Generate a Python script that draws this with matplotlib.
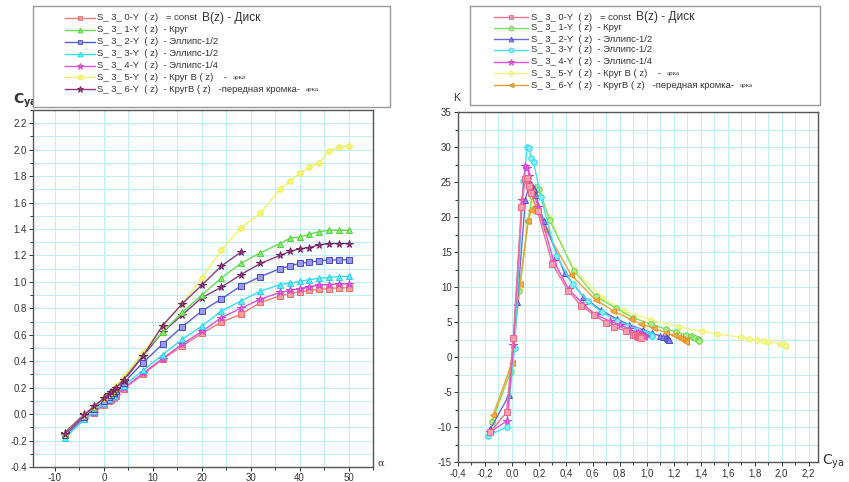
import matplotlib
matplotlib.use("Agg")
import matplotlib.pyplot as plt
from matplotlib.lines import Line2D
from matplotlib.patches import Rectangle
from matplotlib.ticker import MultipleLocator, FuncFormatter

# ---------------- data ----------------
alpha = [-8, -4, -2, 0, 1, 1.5, 2, 2.5, 4, 8, 12, 16, 20, 24, 28, 32, 36, 38, 40, 42, 44, 46, 48, 50]

cya_0 = [-0.16, -0.04, 0.01, 0.07, 0.10, 0.11, 0.125, 0.14, 0.19, 0.30, 0.415, 0.515, 0.61, 0.695, 0.755, 0.845, 0.895, 0.91, 0.925, 0.935, 0.945, 0.95, 0.955, 0.955]
cya_1 = [-0.15, -0.01, 0.055, 0.12, 0.15, 0.165, 0.18, 0.20, 0.28, 0.46, 0.62, 0.77, 0.90, 1.03, 1.14, 1.22, 1.29, 1.33, 1.34, 1.36, 1.38, 1.39, 1.39, 1.39]
cya_2 = [-0.16, -0.02, 0.04, 0.10, 0.13, 0.145, 0.16, 0.175, 0.235, 0.39, 0.53, 0.66, 0.78, 0.87, 0.97, 1.04, 1.10, 1.12, 1.14, 1.15, 1.16, 1.165, 1.167, 1.167]
cya_3 = [-0.18, -0.04, 0.02, 0.085, 0.115, 0.13, 0.14, 0.16, 0.215, 0.33, 0.45, 0.565, 0.665, 0.78, 0.855, 0.93, 0.98, 0.99, 1.004, 1.017, 1.027, 1.034, 1.04, 1.042]
cya_4 = [-0.16, -0.035, 0.01, 0.075, 0.10, 0.115, 0.13, 0.145, 0.195, 0.31, 0.42, 0.53, 0.625, 0.73, 0.80, 0.87, 0.92, 0.935, 0.95, 0.965, 0.975, 0.98, 0.985, 0.985]
cya_5 = [-0.15, -0.01, 0.06, 0.12, 0.15, 0.165, 0.19, 0.21, 0.28, 0.46, 0.67, 0.83, 1.03, 1.24, 1.41, 1.52, 1.70, 1.76, 1.82, 1.87, 1.90, 1.99, 2.02, 2.03]
cya_6 = [-0.14, 0.0, 0.06, 0.12, 0.145, 0.16, 0.17, 0.19, 0.25, 0.44, 0.62, 0.75, 0.88, 0.96, 1.055, 1.14, 1.20, 1.23, 1.25, 1.26, 1.28, 1.29, 1.29, 1.29]
alpha_x = [-8, -4, -2, 0, 1, 1.5, 2, 2.5, 4, 8, 12, 16, 20, 24, 28]
cya_x = [-0.15, -0.01, 0.06, 0.12, 0.15, 0.165, 0.18, 0.20, 0.26, 0.44, 0.67, 0.835, 0.975, 1.12, 1.225]

k_0 = [-10.7, -7.9, 2.7, 21.5, 25.5, 25.6, 24.5, 23.5, 20.8, 13.3, 9.5, 7.3, 6.0, 4.9, 4.3, 3.7, 3.2, 3.1, 3.0, 2.9, 2.9, 2.8, 2.8, 2.7]
k_1 = [-9.3, -2.1, 9.5, 19.5, 23.0, 23.8, 24.3, 24.0, 19.6, 12.3, 8.7, 7.0, 5.6, 4.7, 4.0, 3.6, 3.2, 3.0, 2.9, 2.7, 2.6, 2.5, 2.4, 2.3]
k_2 = [-10.3, -5.4, 7.9, 22.5, 24.7, 24.7, 24.0, 23.2, 19.5, 12.0, 8.6, 6.7, 5.4, 4.6, 3.9, 3.4, 3.0, 2.9, 2.8, 2.7, 2.6, 2.5, 2.45, 2.4]
k_3 = [-11.3, -10.0, 1.3, 25.2, 30.0, 29.8, 28.5, 27.9, 22.8, 14.5, 10.4, 8.0, 6.4, 5.2, 4.5, 3.9, 3.5, 3.4, 3.3, 3.25, 3.2, 3.1, 3.05, 3.0]
k_4 = [-10.7, -9.1, 1.7, 22.5, 27.3, 27.0, 25.8, 24.3, 21.5, 13.7, 9.7, 7.5, 6.0, 5.1, 4.6, 4.0, 3.5, 3.4, 3.3, 3.2, 3.1, 3.0, 3.0, 2.9]
k_5 = [-9.0, -1.5, 10.0, 19.5, 22.5, 23.0, 23.5, 23.2, 19.8, 12.5, 8.5, 6.6, 5.3, 4.3, 3.7, 3.3, 2.8, 2.6, 2.5, 2.3, 2.2, 1.9, 1.8, 1.6]
k_6 = [-8.3, -0.9, 10.5, 19.5, 21.0, 21.4, 21.3, 20.8, 18.2, 11.7, 8.2, 6.6, 5.4, 4.7, 4.1, 3.5, 3.1, 2.9, 2.7, 2.6, 2.5, 2.4, 2.3, 2.2]

labels_main = [
    "S_ 3_ 0-Y  ( z)   = const ",
    "S_ 3_ 1-Y  ( z)  - Круг",
    "S_ 3_ 2-Y  ( z)  - Эллипс-1/2",
    "S_ 3_ 3-Y  ( z)  - Эллипс-1/2",
    "S_ 3_ 4-Y  ( z)  - Эллипс-1/4",
    "S_ 3_ 5-Y  ( z)  - Круг B ( z)    - ",
    "S_ 3_ 6-Y  ( z)  - КругB ( z)   -передная кромка- ",
]
labels_big = ["B(z) - Диск", "", "", "", "", "", ""]
labels_small = ["", "", "", "", "", "арка", "арка"]

left_x_ticks = [-10, 0, 10, 20, 30, 40, 50]
left_y_ticks = [-0.4, -0.2, 0.0, 0.2, 0.4, 0.6, 0.8, 1.0, 1.2, 1.4, 1.6, 1.8, 2.0, 2.2]

# ---------------- styles ----------------
W, H = 849, 482
plt.rcParams['font.family'] = ['Liberation Sans', 'DejaVu Sans']
plt.rcParams['axes.unicode_minus'] = False
fig = plt.figure(figsize=(W / 100, H / 100), dpi=100)

GRID = '#bdeff3'

left_styles = [
    dict(color='#f07a7a', marker='s', mfc='#f4a0a0', mec='#e86a6a'),
    dict(color='#66dd55', marker='^', mfc='#88ee66', mec='#55cc44'),
    dict(color='#5a5ad0', marker='s', mfc='#9a9ae8', mec='#4848c0'),
    dict(color='#33e0f0', marker='^', mfc='#66eef8', mec='#22d0e8'),
    dict(color='#e050e0', marker='*', mfc='#f080f0', mec='#d040d0'),
    dict(color='#f2f266', marker='o', mfc='#f4f47a', mec='#eeee55'),
    dict(color='#8a3a80', marker='*', mfc='#a04a90', mec='#702060'),
]
right_styles = [
    dict(color='#f07090', marker='s', mfc='#f4a0b0', mec='#ee6688'),
    dict(color='#80e060', marker='o', mfc='#b0f090', mec='#70d050'),
    dict(color='#6a6ad8', marker='^', mfc='#8a8ae8', mec='#5050c8'),
    dict(color='#44e0f0', marker='o', mfc='#88eef8', mec='#33d8ee'),
    dict(color='#e050e0', marker='*', mfc='#f070f0', mec='#d040d0'),
    dict(color='#f4f47a', marker='o', mfc='#f6f690', mec='#f0f070'),
    dict(color='#f0a030', marker='<', mfc='#f4b050', mec='#e89020'),
]

def fx(px):
    return px / W

def fy(py):
    return 1 - py / H

# ---------------- left axes ----------------
axL = fig.add_axes([fx(33), fy(467), (373 - 33) / W, (467 - 110) / H])
cya_all = [cya_0, cya_1, cya_2, cya_3, cya_4, cya_5, cya_6]
k_all = [k_0, k_1, k_2, k_3, k_4, k_5, k_6]
orderL = [0, 4, 3, 2, 6, 1, 5]
for i in orderL:
    st = left_styles[i]
    axL.plot(alpha, cya_all[i], color=st['color'], lw=1.0, marker=st['marker'],
             ms=4 if st['marker'] != '*' else 5.5, mfc=st['mfc'], mec=st['mec'], mew=0.7, zorder=3)
stx = left_styles[6]
axL.plot(alpha_x, cya_x, color=stx['color'], lw=1.0, marker='*', ms=5.5,
         mfc=stx['mfc'], mec=stx['mec'], mew=0.7, zorder=3)

axL.set_xlim(-14.5, 55)
axL.set_ylim(-0.4, 2.3)
axL.set_xticks(left_x_ticks)
axL.set_yticks(left_y_ticks)
axL.xaxis.set_minor_locator(MultipleLocator(5))
axL.yaxis.set_minor_locator(MultipleLocator(0.1))
axL.yaxis.set_major_formatter(FuncFormatter(lambda v, p: f"{v:.1f}"))
axL.grid(True, which='both', color=GRID, lw=0.7, zorder=0)
axL.set_axisbelow(True)
axL.tick_params(which='both', labelsize=7, colors='#333333', direction='out', length=3, width=0.7, pad=1.5)
axL.tick_params(which='minor', length=2)
for s in axL.spines.values():
    s.set_color('#555555')
    s.set_linewidth(1.0)

# ---------------- right axes ----------------
axR = fig.add_axes([fx(458), fy(462), (818 - 458) / W, (462 - 112) / H])
orderR = [5, 1, 6, 2, 3, 4, 0]
for i in orderR:
    st = right_styles[i]
    axR.plot(cya_all[i], k_all[i], color=st['color'], lw=1.0, marker=st['marker'],
             ms=4 if st['marker'] != '*' else 5.5, mfc=st['mfc'], mec=st['mec'], mew=0.7, zorder=3)
axR.set_xlim(-0.4, 2.27)
axR.set_ylim(-15, 35)
axR.xaxis.set_major_locator(MultipleLocator(0.2))
axR.xaxis.set_minor_locator(MultipleLocator(0.1))
axR.yaxis.set_major_locator(MultipleLocator(5))
axR.yaxis.set_minor_locator(MultipleLocator(2.5))
axR.xaxis.set_major_formatter(FuncFormatter(lambda v, p: f"{v:.1f}".replace('.', ',').replace('-0,0', '0,0')))
axR.grid(True, which='both', color=GRID, lw=0.7, zorder=0)
axR.set_axisbelow(True)
axR.tick_params(which='both', labelsize=7, colors='#333333', direction='out', length=3, width=0.7, pad=1.5)
axR.tick_params(which='minor', length=2)
for s in axR.spines.values():
    s.set_color('#555555')
    s.set_linewidth(1.0)

# axis titles
fig.text(fx(13), fy(101), r"$\mathbf{C_{ya}}$", fontsize=10, color='#333333', va='center', ha='left')
fig.text(fx(377), fy(463), "α", fontsize=7, color='#333333', va='center', ha='left', family='DejaVu Serif')
fig.text(fx(457), fy(98), "K", fontsize=7.5, color='#333333', va='center', ha='center')
fig.text(fx(822), fy(462), r"$\mathrm{C_{ya}}$", fontsize=10, color='#333333', va='center', ha='left')

# ---------------- legends (boxes above plots) ----------------
renderer = fig.canvas.get_renderer()

def legend_block(box, handle_x0, handle_x1, text_x, rows, styles, fs):
    x0, y0, x1, y1 = box
    fig.add_artist(Rectangle((fx(x0), fy(y1)), (x1 - x0) / W, (y1 - y0) / H,
                             transform=fig.transFigure, facecolor='white',
                             edgecolor='#999999', lw=1.0, zorder=5))
    for i, ypx in enumerate(rows):
        st = styles[i]
        fig.add_artist(Line2D([fx(handle_x0), fx(handle_x1)], [fy(ypx), fy(ypx)],
                              transform=fig.transFigure, color=st['color'], lw=1.0, zorder=6))
        fig.add_artist(Line2D([fx((handle_x0 + handle_x1) / 2)], [fy(ypx)],
                              transform=fig.transFigure, marker=st['marker'],
                              ms=3.5 if st['marker'] != '*' else 5, mfc=st['mfc'], mec=st['mec'],
                              mew=0.6, lw=0, zorder=6))
        t = fig.text(fx(text_x), fy(ypx), labels_main[i], fontsize=fs, color='#333333',
                     va='center', ha='left', zorder=6)
        bb = t.get_window_extent(renderer)
        xe = bb.x1
        if labels_big[i]:
            fig.text(xe / W + 2 / W, fy(ypx), labels_big[i], fontsize=fs + 1.8, color='#333333',
                     va='center', ha='left', zorder=6)
        if labels_small[i]:
            fig.text(xe / W + 3 / W, fy(ypx), labels_small[i], fontsize=5, color='#333333',
                     va='center', ha='left', family='Liberation Serif', zorder=6)

legend_block((33, 6, 390, 107), 65, 95, 97, [18, 30, 42, 54, 66, 77, 89], left_styles, 6.8)
legend_block((470, 6, 820, 105), 494, 528, 531, [17, 28, 39, 50, 62, 73, 85], right_styles, 6.8)

fig.savefig("out.png", dpi=100)
